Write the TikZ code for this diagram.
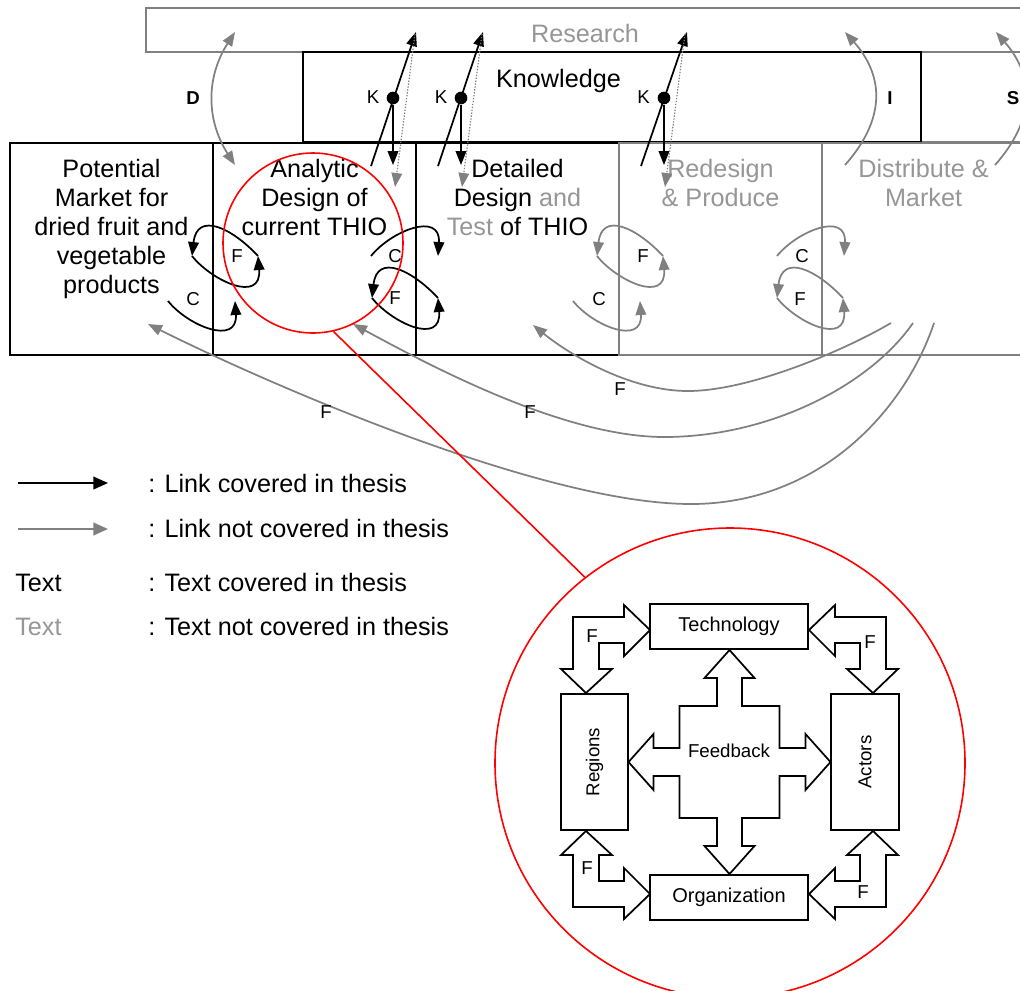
\documentclass[tikz,border=0pt]{standalone}
\usepackage{fontspec}
\setmainfont{Liberation Sans}
\usetikzlibrary{arrows.meta}
\definecolor{linegray}{RGB}{128,128,128}
\definecolor{txtgray}{RGB}{150,150,150}
\definecolor{zoomred}{RGB}{255,0,0}
\tikzset{
  hd/.tip={Triangle[length=10.5pt,width=8pt]},
  bighd/.tip={Triangle[length=11pt,width=9.5pt]},
  % feedback loop between two neighbouring stages
  floop/.pic={
    \draw[link] (66,0) .. controls (40,-28) and (5,-45) .. (0,0);
    \draw[link] (0,0) .. controls (20,25) and (70,48) .. (66,0);
  },
  % one-way arc between two neighbouring stages
  carc/.pic={
    \draw[link] (0,0) .. controls (20,-25) and (70,-45) .. (67,0);
  },
  % stepped double arrow linking two boxes of the detail view
  cornerarrow/.pic={
    \draw[line width=1.3pt] (-79.5,-132) -- (-105.5,-157) -- (-105.5,-145) -- (-156.5,-145)
      -- (-156.5,-93) -- (-168.5,-93) -- (-143.5,-69) -- (-117.5,-93) -- (-130.5,-93)
      -- (-130.5,-119) -- (-105.5,-119) -- (-105.5,-106) -- cycle;
  }
}
\begin{document}
\begin{tikzpicture}[x=0.75pt, y=-0.75pt,
  link/.style={line width=1.3pt, -{hd}},
  dlink/.style={line width=1.3pt, {hd}-{hd}},
  dots/.style={linegray, line width=0.9pt, dash pattern=on 1pt off 1.2pt, -{hd}},
  band/.style={draw, line width=1.4pt, inner sep=0pt},
  rowbox/.style={band, minimum width=152.25pt, minimum height=159pt},
  bigtxt/.style={font=\fontsize{18.9}{21.75}\selectfont, align=center, inner sep=0pt},
  lbl/.style={font=\fontsize{14}{16}\selectfont, inner sep=0pt},
  boldlbl/.style={font=\bfseries\fontsize{14}{16}\selectfont, inner sep=0pt},
  inbox/.style={draw, line width=1.3pt, inner sep=0pt, font=\fontsize{14}{16}\selectfont},
  kdot/.style={circle, fill, inner sep=0pt, minimum size=9.5pt},
  legtxt/.style={font=\fontsize{18.9}{21.75}\selectfont, inner sep=0pt, anchor=base west}
]
\useasboundingbox (0,0) rectangle (1020,990);
\clip (0,0) rectangle (1020,990);

% ---------- upper bands ----------
\node[band, draw=linegray, minimum width=663pt, minimum height=33pt] (research) at (588,30) {};
\node[band, draw=linegray, minimum width=81.75pt, minimum height=67.5pt] (sbox) at (975.5,97) {};
\node[band, minimum width=463.5pt, minimum height=67.5pt] (knowledge) at (612,97) {};
\node[bigtxt, anchor=base, text=txtgray] (researchtxt) at (585,42) {Research};
\node[bigtxt, anchor=base] (knowledgetxt) at (558.5,87) {Knowledge};

% ---------- process stages ----------
\node[rowbox] (market) at (111.5,249) {};
\node[rowbox] (analytic) at (314.5,249) {};
\node[rowbox] (detailed) at (517.5,249) {};
\node[rowbox, draw=linegray] (redesign) at (720.5,249) {};
\node[rowbox, draw=linegray] (distribute) at (923.5,249) {};

\node[bigtxt, anchor=north] (markettxt) at (111.5,158.5) {Potential\\Market for\\dried fruit and\\vegetable\\products};
\node[bigtxt, anchor=north] (analytictxt) at (314.5,158.5) {Analytic\\Design of\\current THIO};
\node[bigtxt, anchor=north] (detailedtxt) at (517.5,158.5) {Detailed\\Design \textcolor{txtgray}{and}\\\textcolor{txtgray}{Test} of THIO};
\node[bigtxt, anchor=north, text=txtgray] (redesigntxt) at (720.5,158.5) {Redesign\\\& Produce};
\node[bigtxt, anchor=north, text=txtgray] (distributetxt) at (923.5,158.5) {Distribute \&\\Market};

% ---------- D, I, S links ----------
\node[boldlbl] (dlab) at (193,98) {D};
\node[boldlbl] (ilab) at (890,98) {I};
\node[boldlbl] (slab) at (1013,98) {S};
\coordinate (d1) at (235,165); \coordinate (d2) at (235,32);
\coordinate (i1) at (845,165); \coordinate (i2) at (845,32);
\coordinate (s1) at (995,165); \coordinate (s2) at (996,32);
\draw[dlink, linegray] (d1) .. controls (206,120) and (206,77) .. (d2);
\draw[link, linegray] (i1) .. controls (885,120) and (885,77) .. (i2);
\draw[link, linegray] (s1) .. controls (1035,120) and (1035,77) .. (s2);

% ---------- knowledge links ----------
\node[kdot] (k1) at (393,98) {};
\node[kdot] (k2) at (461,98) {};
\node[kdot] (k3) at (664,98) {};
\node[lbl] (k1lab) at (373,97) {K};
\node[lbl] (k2lab) at (441,97) {K};
\node[lbl] (k3lab) at (643.5,97) {K};
\coordinate (k1a) at (371,166); \coordinate (k1b) at (416,32); \coordinate (k1c) at (393,165);
\coordinate (k2a) at (438,166); \coordinate (k2b) at (483,32); \coordinate (k2c) at (461,165);
\coordinate (k3a) at (641,166); \coordinate (k3b) at (687,32); \coordinate (k3c) at (664,165);
\draw[link] (k1a) -- (k1b);
\draw[link] (k2a) -- (k2b);
\draw[link] (k3a) -- (k3b);
\draw[link] (k1) -- (k1c);
\draw[link] (k2) -- (k2c);
\draw[link] (k3) -- (k3c);
\coordinate (r1) at (415,34); \coordinate (r1e) at (395,187);
\coordinate (r2) at (482,34); \coordinate (r2e) at (462,187);
\coordinate (r3) at (685,34); \coordinate (r3e) at (665,187);
\draw[dots] (r1) -- (r1e);
\draw[dots] (r2) -- (r2e);
\draw[dots] (r3) -- (r3e);

% ---------- loops between neighbouring stages ----------
\pic[black] at (192,256) {floop};
\pic[black, yscale=-1] at (168,301) {carc};
\pic[black] at (371,256) {carc};
\pic[black] at (372,298) {floop};
\pic[linegray] at (597,256) {floop};
\pic[linegray, yscale=-1] at (573,301) {carc};
\pic[linegray] at (777,256) {carc};
\pic[linegray] at (777,298) {floop};
\node[lbl] (fl1) at (237,256) {F};
\node[lbl] (cl1) at (193,299) {C};
\node[lbl] (cl2) at (395,256) {C};
\node[lbl] (fl2) at (395,298) {F};
\node[lbl] (fl3) at (643,256) {F};
\node[lbl] (cl3) at (599,299) {C};
\node[lbl] (cl4) at (802,256) {C};
\node[lbl] (fl4) at (800,299) {F};

% ---------- market feedback ----------
\coordinate (fa1) at (891,323); \coordinate (fa2) at (533,325);
\coordinate (fb1) at (913,323); \coordinate (fb2) at (353,324);
\coordinate (fc1) at (934,323); \coordinate (fc2) at (148,324);
\draw[link, linegray] (fa1) .. controls (845,350) and (750,391) .. (688,391) .. controls (630,391) and (570,355) .. (fa2);
\draw[link, linegray] (fb1) .. controls (870,385) and (770,437) .. (664,437) .. controls (560,437) and (420,360) .. (fb2);
\draw[link, linegray] (fc1) .. controls (905,410) and (820,504) .. (691,504) .. controls (540,504) and (260,380) .. (fc2);
\node[lbl] (fla) at (620,389) {F};
\node[lbl] (flb) at (530,412) {F};
\node[lbl] (flc) at (326,412) {F};

% ---------- legend ----------
\coordinate (lg1) at (18,483); \coordinate (lg1e) at (108,483);
\coordinate (lg2) at (18,529); \coordinate (lg2e) at (108,529);
\draw[line width=1.4pt, -{bighd}] (lg1) -- (lg1e);
\draw[line width=1.4pt, linegray, -{bighd}] (lg2) -- (lg2e);
\node[legtxt] (leg1) at (148,492) {: Link covered in thesis};
\node[legtxt] (leg2) at (148,537) {: Link not covered in thesis};
\node[legtxt] (leg3a) at (15,591) {Text};
\node[legtxt] (leg3) at (148,591) {: Text covered in thesis};
\node[legtxt, text=txtgray] (leg4a) at (15,635) {Text};
\node[legtxt] (leg4) at (148,635) {: Text not covered in thesis};

% ---------- magnified view ----------
\node[draw=zoomred, line width=1.2pt, circle, inner sep=0pt, minimum size=135pt] (lens) at (313,243) {};
\node[draw=zoomred, line width=1.2pt, circle, inner sep=0pt, minimum size=352.5pt] (detail) at (730,763) {};
\draw[zoomred, line width=1.2pt] (lens.-77) -- (detail.128.5);

\coordinate (hub) at (729.5,762);
\node[inbox, font=\fontsize{15}{17}\selectfont, minimum width=118.5pt, minimum height=33.75pt] (tech) at (729,626.5) {Technology};
\node[inbox, font=\fontsize{15}{17}\selectfont, minimum width=118.5pt, minimum height=33.75pt] (org) at (729,897.5) {Organization};
\node[inbox, rotate=90, minimum width=102pt, minimum height=50.25pt] (regions) at (594.5,762) {Regions};
\node[inbox, rotate=90, minimum width=102pt, minimum height=51pt] (actors) at (865,762) {Actors};

\begin{scope}[shift={(hub)}]
  \draw[line width=1.3pt] (0,-112) -- (25,-84) -- (12.5,-84) -- (12.5,-56) -- (50,-56) -- (50,-14)
    -- (76,-14) -- (76,-28) -- (101,0) -- (76,28) -- (76,14) -- (50,14) -- (50,56) -- (12.5,56)
    -- (12.5,84) -- (25,84) -- (0,112) -- (-25,84) -- (-12.5,84) -- (-12.5,56) -- (-50,56)
    -- (-50,14) -- (-76,14) -- (-76,28) -- (-101,0) -- (-76,-28) -- (-76,-14) -- (-50,-14)
    -- (-50,-56) -- (-12.5,-56) -- (-12.5,-84) -- (-25,-84) -- cycle;
  \pic[transform shape] {cornerarrow};
\end{scope}
\begin{scope}[shift={(hub)}, xscale=-1]
  \pic[transform shape] {cornerarrow};
\end{scope}
\begin{scope}[shift={(hub)}, yscale=-1]
  \pic[transform shape] {cornerarrow};
\end{scope}
\begin{scope}[shift={(hub)}, xscale=-1, yscale=-1]
  \pic[transform shape] {cornerarrow};
\end{scope}
\node[lbl] (feedback) at (729,751) {Feedback};
\node[lbl] (ftl) at (592,636) {F};
\node[lbl] (ftr) at (870,642) {F};
\node[lbl] (fbl) at (587,868) {F};
\node[lbl] (fbr) at (863,892) {F};
\end{tikzpicture}
\end{document}
